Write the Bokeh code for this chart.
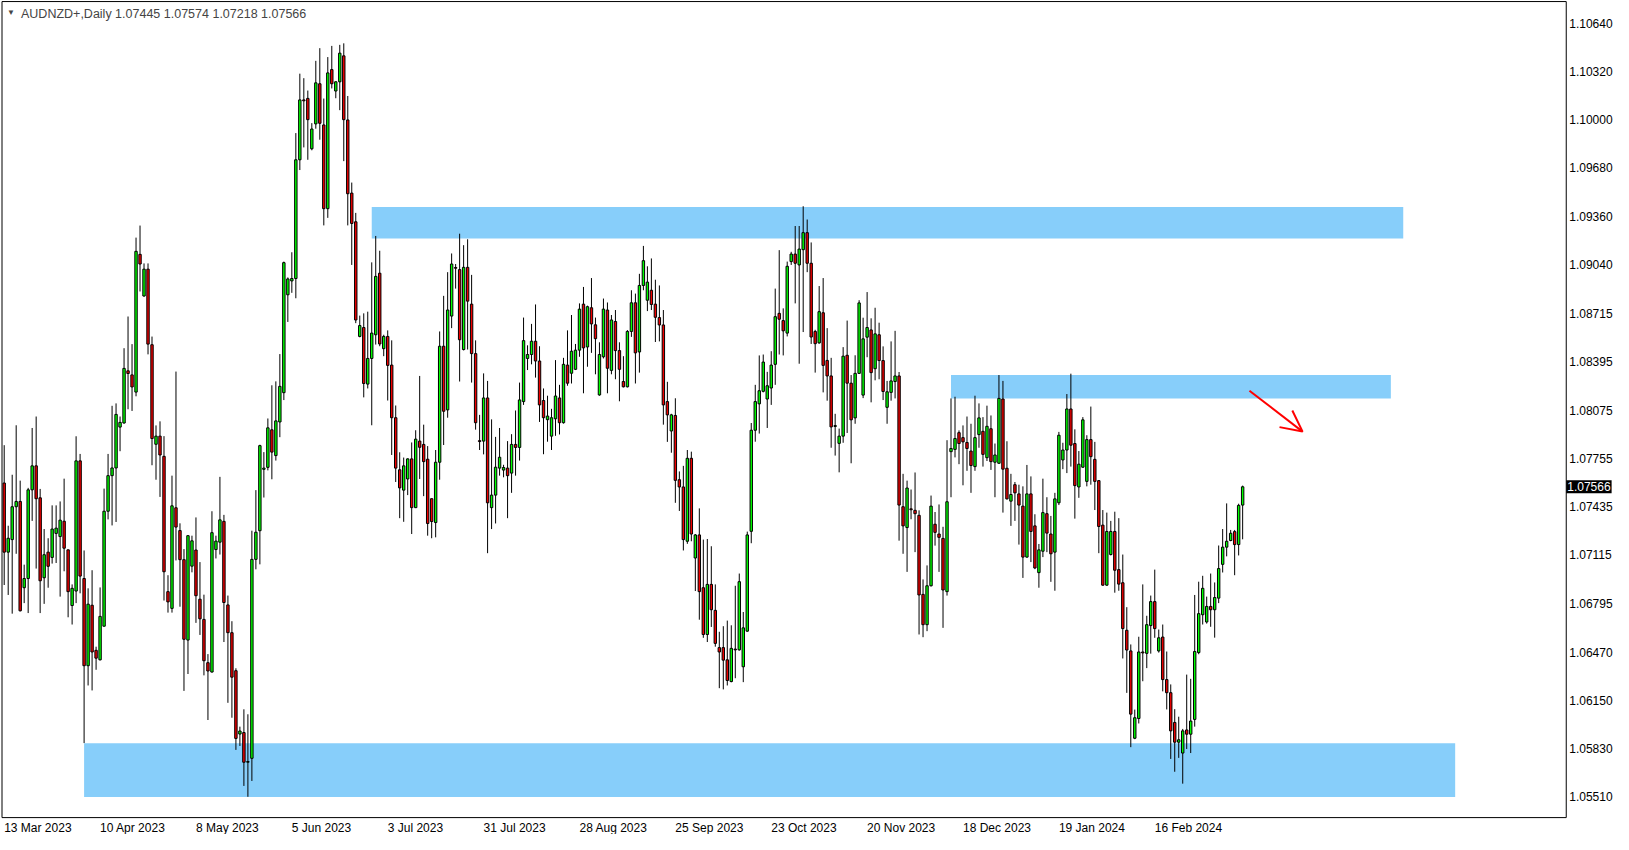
from bokeh.plotting import figure
from bokeh.models import (Range1d, Label, LabelSet, Arrow, OpenHead, ColumnDataSource,
                          BoxAnnotation)
from bokeh.core.properties import value
from bokeh.embed import file_html
from bokeh.resources import INLINE

symbol = "AUDNZD+,Daily"

opens = [
1.07591,1.07133,1.07216,1.07434,1.07469,1.06897,1.06958,1.07546,1.07705,1.07493,
1.06963,1.07133,1.07098,1.07257,1.07236,1.07338,1.07148,1.06779,1.06875,1.07738,
1.06958,1.06380,1.06781,1.06482,1.06419,1.06642,1.07404,1.07640,1.07691,1.07962,
1.07989,1.08335,1.08308,1.08194,1.09107,1.08831,1.09009,1.08508,1.07848,1.07902,
1.07768,1.06871,1.06760,1.07427,1.07276,1.07083,1.06550,1.07040,1.07147,1.06821,
1.06687,1.06400,1.06338,1.07150,1.07199,1.07337,1.06783,1.06599,1.06347,1.05927,
1.05937,1.05740,1.05766,1.07085,1.07275,1.07682,1.07695,1.07944,1.07773,1.07996,
1.08190,1.08839,1.08931,1.08947,1.09734,1.10131,1.10141,1.09807,1.09972,1.10238,
1.09965,1.09410,1.10332,1.10190,1.10251,1.10423,1.09998,1.09513,1.09323,1.08563,
1.08622,1.08247,1.08417,1.08574,1.08982,1.08482,1.08563,1.08373,1.08024,1.07679,
1.07544,1.07618,1.07751,1.07428,1.07869,1.07847,1.07749,1.07487,1.07329,1.07729,
1.08498,1.08076,1.08698,1.09020,1.09006,1.08476,1.09021,1.08777,1.08449,1.07872,
1.07869,1.08155,1.07428,1.07511,1.07690,1.07677,1.07690,1.07657,1.07847,1.07827,
1.08131,1.08417,1.08443,1.08531,1.08400,1.08138,1.08011,1.07902,1.08017,1.08155,
1.07991,1.08373,1.08319,1.08345,1.08472,1.08777,1.08493,1.08753,1.08640,1.08175,
1.08428,1.08738,1.08338,1.08662,1.08469,1.08264,1.08229,1.08596,1.08786,1.08460,
1.08901,1.08803,1.08869,1.08777,1.08688,1.08639,1.08131,1.07936,1.08039,1.07613,
1.07565,1.07205,1.07755,1.07094,1.07247,1.06897,1.06587,1.06919,1.06747,1.06500,
1.06500,1.06419,1.06275,1.06490,1.06485,1.06373,1.06609,1.07271,1.07941,1.08116,
1.08199,1.08148,1.08221,1.08378,1.08716,1.08668,1.08585,1.09059,1.09109,1.09037,
1.09138,1.09251,1.09048,1.08596,1.08520,1.08720,1.08404,1.08301,1.07966,1.07854,
1.07902,1.08438,1.08253,1.08023,1.08318,1.08174,1.08558,1.08606,1.08349,1.08574,
1.08403,1.08093,1.08192,1.08264,1.08301,1.07434,1.07296,1.07420,1.07410,1.07377,
1.06853,1.06652,1.06910,1.07318,1.07253,1.07224,1.06871,1.07799,1.07814,1.07925,
1.07892,1.07860,1.07803,1.07700,1.07912,1.07934,1.07759,1.07951,1.07729,1.07722,
1.08148,1.07689,1.07471,1.07580,1.07519,1.07438,1.07100,1.07519,1.07307,1.06997,
1.07139,1.07388,1.07253,1.07133,1.07460,1.07744,1.07810,1.08082,1.07853,1.07565,
1.07696,1.07602,1.07879,1.07748,1.07607,1.07312,1.06914,1.07117,1.07270,1.07017,
1.06930,1.06615,1.06478,1.05899,1.06030,1.06471,1.06462,1.06646,1.06805,1.06478,
1.06570,1.06288,1.06201,1.06004,1.05873,1.05801,1.05954,1.05926,1.06024,1.06467,
1.06718,1.06670,1.06773,1.06751,1.06828,1.07052,1.07166,1.07210,1.07269,1.07183,
1.07445]

highs = [
1.07842,1.07308,1.07646,1.07974,1.07607,1.07050,1.07559,1.07956,1.08032,1.07552,
1.07286,1.07225,1.07443,1.07443,1.07469,1.07620,1.07150,1.06919,1.07901,1.07784,
1.07144,1.06893,1.07013,1.06506,1.06899,1.07554,1.07784,1.08103,1.08119,1.08032,
1.08485,1.08695,1.08512,1.09218,1.09298,1.09047,1.09047,1.08562,1.07973,1.08000,
1.07902,1.06980,1.07640,1.08330,1.07324,1.07153,1.07245,1.07242,1.07363,1.07067,
1.06851,1.06457,1.07404,1.07242,1.07632,1.07380,1.06845,1.06675,1.06363,1.05976,
1.06091,1.06058,1.07275,1.07544,1.07845,1.07796,1.08019,1.08239,1.08265,1.08446,
1.09059,1.08954,1.09121,1.09911,1.10305,1.10275,1.10193,1.09977,1.10390,1.10474,
1.10140,1.10415,1.10489,1.10255,1.10496,1.10506,1.10157,1.09583,1.09382,1.08701,
1.08716,1.08727,1.09054,1.09229,1.09131,1.08574,1.08603,1.08537,1.08105,1.07795,
1.07760,1.07755,1.07860,1.07941,1.08301,1.07978,1.07836,1.07490,1.07810,1.08596,
1.08832,1.08989,1.09113,1.09043,1.09244,1.09168,1.09207,1.08971,1.08537,1.08043,
1.08318,1.08268,1.08013,1.07897,1.07956,1.07712,1.07869,1.07915,1.08072,1.08257,
1.08688,1.08504,1.08646,1.08775,1.08498,1.08218,1.08170,1.08083,1.08406,1.08242,
1.08421,1.08603,1.08705,1.08513,1.08782,1.08891,1.08767,1.08950,1.08688,1.08524,
1.08814,1.08788,1.08705,1.08738,1.08524,1.08432,1.08605,1.08869,1.08847,1.08978,
1.09163,1.09028,1.09080,1.08939,1.08901,1.08738,1.08262,1.08050,1.08153,1.07668,
1.07705,1.07810,1.07799,1.07253,1.07423,1.07216,1.07220,1.07172,1.06919,1.06605,
1.06642,1.06679,1.06648,1.06910,1.06991,1.06736,1.07269,1.07989,1.08242,1.08437,
1.08443,1.08328,1.08465,1.08880,1.09135,1.08749,1.09059,1.09124,1.09295,1.09295,
1.09426,1.09338,1.09186,1.08607,1.08897,1.08950,1.08618,1.08421,1.08050,1.07952,
1.08492,1.08668,1.08307,1.08438,1.08803,1.08687,1.08857,1.08683,1.08753,1.08654,
1.08497,1.08268,1.08530,1.08600,1.08327,1.07652,1.07607,1.07548,1.07661,1.07410,
1.06952,1.07045,1.07508,1.07399,1.07449,1.07301,1.07875,1.08152,1.08163,1.07940,
1.07973,1.08032,1.07984,1.08170,1.08119,1.08028,1.08104,1.08039,1.07853,1.08307,
1.08268,1.07868,1.07652,1.07598,1.07580,1.07569,1.07711,1.07635,1.07384,1.07187,
1.07620,1.07497,1.07373,1.07526,1.07930,1.07858,1.08181,1.08316,1.07947,1.07803,
1.08028,1.07908,1.08098,1.07864,1.07610,1.07412,1.07395,1.07340,1.07401,1.07358,
1.07117,1.06768,1.06521,1.06089,1.06572,1.06919,1.06711,1.06845,1.07017,1.06620,
1.06653,1.06474,1.06256,1.06092,1.06042,1.05961,1.06321,1.06293,1.06849,1.06937,
1.06976,1.06838,1.06991,1.06932,1.07177,1.07286,1.07456,1.07280,1.07280,1.07454,
1.07574]

lows = [
1.06915,1.06849,1.06725,1.07122,1.06740,1.06795,1.06729,1.07340,1.07024,1.06729,
1.06790,1.06897,1.07057,1.07061,1.06838,1.07006,1.06701,1.06653,1.06795,1.06860,
1.05867,1.06249,1.06216,1.06353,1.06415,1.06640,1.07350,1.07310,1.07333,1.07802,
1.07985,1.08080,1.08069,1.08166,1.08861,1.08826,1.08444,1.07709,1.07613,1.07499,
1.06812,1.06732,1.06732,1.07078,1.06771,1.06213,1.06325,1.06999,1.06664,1.06584,
1.06316,1.06020,1.06335,1.07091,1.07117,1.06537,1.06134,1.06035,1.05822,1.05848,
1.05583,1.05511,1.05616,1.07019,1.07052,1.07495,1.07675,1.07616,1.07740,1.07895,
1.08141,1.08659,1.08852,1.08816,1.09666,1.09816,1.09734,1.09797,1.09940,1.09867,
1.09299,1.09349,1.10207,1.10142,1.10063,1.09725,1.09299,1.09037,1.08651,1.08557,
1.08159,1.08218,1.07974,1.08509,1.08498,1.08432,1.08138,1.07777,1.07598,1.07358,
1.07334,1.07511,1.07253,1.07425,1.07618,1.07504,1.07242,1.07225,1.07231,1.07613,
1.07843,1.08024,1.08618,1.08880,1.08264,1.08470,1.08476,1.08257,1.07945,1.07810,
1.07781,1.07126,1.07286,1.07323,1.07640,1.07629,1.07358,1.07526,1.07640,1.07740,
1.08109,1.08340,1.08378,1.08290,1.07996,1.07782,1.07865,1.07810,1.07904,1.07913,
1.07985,1.08236,1.08251,1.08340,1.08428,1.08186,1.08362,1.08454,1.08312,1.08170,
1.08417,1.08186,1.08312,1.08279,1.08133,1.08225,1.08225,1.08560,1.08251,1.08323,
1.08869,1.08731,1.08738,1.08526,1.08530,1.07978,1.07864,1.07792,1.07460,1.07406,
1.07144,1.07188,1.07205,1.06875,1.06685,1.06565,1.06537,1.06637,1.06506,1.06231,
1.06223,1.06249,1.06270,1.06297,1.06480,1.06271,1.06605,1.07192,1.07865,1.07919,
1.08192,1.07956,1.08109,1.08242,1.08443,1.08437,1.08563,1.09037,1.08782,1.08382,
1.08592,1.08989,1.08513,1.08323,1.08515,1.08192,1.08137,1.07825,1.07773,1.07662,
1.07858,1.07923,1.07722,1.07984,1.08315,1.08154,1.08425,1.08126,1.08272,1.08279,
1.08141,1.07984,1.08137,1.08152,1.07209,1.07122,1.07002,1.07351,1.07133,1.06587,
1.06569,1.06609,1.06905,1.07176,1.07002,1.06631,1.06845,1.07497,1.07761,1.07716,
1.07576,1.07672,1.07526,1.07672,1.07825,1.07700,1.07737,1.07678,1.07497,1.07720,
1.07395,1.07482,1.07307,1.07340,1.07183,1.06962,1.07096,1.07067,1.07020,1.06897,
1.07100,1.07133,1.06936,1.06877,1.07445,1.07683,1.07657,1.07700,1.07355,1.07493,
1.07692,1.07569,1.07580,1.07412,1.07126,1.06910,1.06910,1.07111,1.06864,1.06877,
1.06428,1.06200,1.05840,1.05893,1.05997,1.06277,1.06364,1.06460,1.06565,1.06467,
1.06210,1.06090,1.05762,1.05677,1.05769,1.05598,1.05828,1.05801,1.05976,1.06456,
1.06653,1.06659,1.06638,1.06566,1.06795,1.06998,1.07105,1.07205,1.06980,1.07111,
1.07218]

closes = [
1.07133,1.07225,1.07434,1.07469,1.06744,1.06958,1.07546,1.07705,1.07487,1.06943,
1.07116,1.07039,1.07286,1.07292,1.07345,1.07159,1.06871,1.06893,1.07738,1.06974,
1.06380,1.06788,1.06471,1.06430,1.06707,1.07404,1.07640,1.07691,1.08046,1.07993,
1.08351,1.08317,1.08228,1.09127,1.09043,1.09009,1.08512,1.07886,1.07902,1.07777,
1.07003,1.06803,1.07440,1.07299,1.07083,1.06555,1.07242,1.07208,1.06844,1.06691,
1.06413,1.06345,1.07262,1.07206,1.07347,1.06799,1.06599,1.06304,1.05898,1.05947,
1.05740,1.05745,1.07085,1.07265,1.07839,1.07690,1.07957,1.07796,1.08003,1.08232,
1.09052,1.08944,1.08947,1.09734,1.10131,1.10125,1.10000,1.09938,1.10244,1.09976,
1.09410,1.10310,1.10238,1.10251,1.10441,1.10000,1.09509,1.09312,1.08672,1.08635,
1.08251,1.08417,1.08585,1.08961,1.08513,1.08563,1.08371,1.08024,1.07690,1.07559,
1.07705,1.07751,1.07428,1.07882,1.07828,1.07733,1.07323,1.07336,1.07729,1.08498,
1.08067,1.08738,1.09043,1.09015,1.08541,1.09021,1.08797,1.08449,1.07991,1.07866,
1.08155,1.07460,1.07511,1.07696,1.07762,1.07694,1.07640,1.07847,1.07827,1.08142,
1.08535,1.08443,1.08531,1.08400,1.08109,1.08024,1.08035,1.08024,1.08168,1.07991,
1.08378,1.08253,1.08465,1.08472,1.08744,1.08487,1.08760,1.08646,1.08548,1.08443,
1.08744,1.08352,1.08672,1.08469,1.08345,1.08229,1.08596,1.08786,1.08454,1.08901,
1.09065,1.08923,1.08775,1.08690,1.08639,1.08109,1.08043,1.08043,1.07609,1.07565,
1.07216,1.07755,1.07253,1.07247,1.06871,1.06587,1.06919,1.06751,1.06528,1.06471,
1.06417,1.06282,1.06495,1.06485,1.06937,1.06631,1.07247,1.07941,1.08131,1.08203,
1.08393,1.08236,1.08373,1.08694,1.08677,1.08600,1.09028,1.09109,1.09048,1.09142,
1.09251,1.09048,1.08559,1.08515,1.08727,1.08371,1.08301,1.07963,1.07972,1.07902,
1.08432,1.08253,1.08010,1.08318,1.08785,1.08547,1.08622,1.08323,1.08580,1.08403,
1.08198,1.08196,1.08268,1.08301,1.07445,1.07307,1.07558,1.07414,1.07388,1.06849,
1.06652,1.06910,1.07438,1.07264,1.07231,1.06882,1.07467,1.07820,1.07886,1.07853,
1.07864,1.07820,1.07707,1.07892,1.08023,1.07781,1.07967,1.07733,1.07777,1.08152,
1.07683,1.07486,1.07515,1.07526,1.07445,1.07100,1.07519,1.07270,1.07028,1.07148,
1.07395,1.07259,1.07122,1.07486,1.07908,1.07810,1.08082,1.07842,1.07574,1.07716,
1.08010,1.07879,1.07766,1.07602,1.07303,1.06914,1.07270,1.07270,1.07013,1.06921,
1.06626,1.06484,1.06059,1.06035,1.06471,1.06465,1.06652,1.06805,1.06626,1.06565,
1.06288,1.06201,1.05948,1.05873,1.05889,1.05948,1.05926,1.06013,1.06474,1.06725,
1.06893,1.06773,1.06751,1.06832,1.07024,1.07166,1.07205,1.07258,1.07183,1.07443,
1.07566]

date_labels = ["13 Mar 2023", "10 Apr 2023", "8 May 2023", "5 Jun 2023", "3 Jul 2023",
               "31 Jul 2023", "28 Aug 2023", "25 Sep 2023", "23 Oct 2023", "20 Nov 2023",
               "18 Dec 2023", "19 Jan 2024", "16 Feb 2024"]
label_bars = [0, 24, 48, 72, 96, 120, 144, 168, 192, 216, 240, 264, 288]

price_ticks = [1.10640, 1.10320, 1.10000, 1.09680, 1.09360, 1.09040, 1.08715, 1.08395,
               1.08075, 1.07755, 1.07435, 1.07115, 1.06795, 1.06470, 1.06150, 1.05830, 1.05510]

zone_left = [92, 237, 20]
zone_right = [350.2, 347.1, 363.2]
zone_top = [1.09421, 1.08308, 1.05866]
zone_bottom = [1.09213, 1.08152, 1.05509]

arrow_x = [311.7, 325.0]
arrow_y = [1.08203, 1.07932]

# MT4 chart window: price-area border (bar / price units) and the whole window extent
BORDER_LEFT, BORDER_RIGHT = -0.55, 391.0
BORDER_TOP, BORDER_BOTTOM = 1.10783, 1.05373
X_START, X_END = -0.926, 402.83
Y_MIN, Y_MAX = 1.05261, 1.10790

n = len(opens)
idx = list(range(n))
body_top = [max(o, c) for o, c in zip(opens, closes)]
body_bot = [min(o, c) for o, c in zip(opens, closes)]
body_col = ["#00ff00" if c > o else ("#ee0000" if c < o else "black") for o, c in zip(opens, closes)]
src = ColumnDataSource(dict(x=idx, o=opens, h=highs, l=lows, c=closes,
                            top=body_top, bot=body_bot, col=body_col))

FONT = "Liberation Sans"

p = figure(width=1613, height=834,
           x_range=Range1d(X_START, X_END), y_range=Range1d(Y_MIN, Y_MAX),
           x_axis_location=None, y_axis_location=None,
           toolbar_location=None, output_backend="svg",
           min_border_left=0, min_border_top=0, min_border_right=0, min_border_bottom=0)
p.xgrid.visible = False
p.ygrid.visible = False
p.outline_line_color = None
p.background_fill_color = "white"
p.border_fill_color = "white"

p.quad(left=zone_left, right=zone_right, top=zone_top, bottom=zone_bottom,
       fill_color="#87CEFA", line_color=None)

p.segment(x0="x", y0="h", x1="x", y1="l", source=src, line_color="black", line_width=1)
p.vbar(x="x", width=0.6, top="top", bottom="bot", source=src,
       fill_color="col", line_color="black", line_width=1)

p.add_layout(Arrow(end=OpenHead(size=21, line_color="red", line_width=2),
                   x_start=arrow_x[0], y_start=arrow_y[0], x_end=arrow_x[1], y_end=arrow_y[1],
                   line_color="red", line_width=2))

# chart border; price scale to its right, time scale below
p.add_layout(BoxAnnotation(left=BORDER_LEFT, right=BORDER_RIGHT, top=BORDER_TOP,
                           bottom=BORDER_BOTTOM, fill_alpha=0, line_color="black",
                           line_width=1, line_alpha=1))

# time scale labels: each starts at its bar
time_src = ColumnDataSource(dict(x=label_bars, y=[BORDER_BOTTOM] * len(label_bars),
                                 text=date_labels))
p.add_layout(LabelSet(x="x", y="y", text="text", source=time_src, y_offset=-3,
                      text_align="left", text_baseline="top", text_font=value(FONT),
                      text_font_size=value("12px"), text_color="black"))

# price scale labels
price_src = ColumnDataSource(dict(x=[BORDER_RIGHT] * len(price_ticks), y=price_ticks,
                                  text=[f"{v:.5f}" for v in price_ticks]))
p.add_layout(LabelSet(x="x", y="y", text="text", source=price_src, x_offset=3,
                      text_align="left", text_baseline="middle", text_font=value(FONT),
                      text_font_size=value("12px"), text_color="black"))

# header
p.add_layout(Label(x=BORDER_LEFT, y=BORDER_TOP, x_offset=5, y_offset=-6, text="▼",
                   text_font=FONT, text_font_size="8px", text_baseline="top"))
p.add_layout(Label(x=BORDER_LEFT, y=BORDER_TOP, x_offset=19, y_offset=-5,
                   text=f"{symbol}  {opens[-1]:.5f} {highs[-1]:.5f} {lows[-1]:.5f} {closes[-1]:.5f}",
                   text_font=FONT, text_font_size="12.5px", text_baseline="top"))

# current price tag on the price scale
p.add_layout(Label(x=BORDER_RIGHT, y=closes[-1], x_offset=0, text=f"{closes[-1]:.5f}",
                   text_font=FONT, text_font_size="12px", text_color="white",
                   text_baseline="middle", text_align="left",
                   background_fill_color="black", padding=(1, 2)))

open("out.html", "w").write(file_html(p, INLINE))
